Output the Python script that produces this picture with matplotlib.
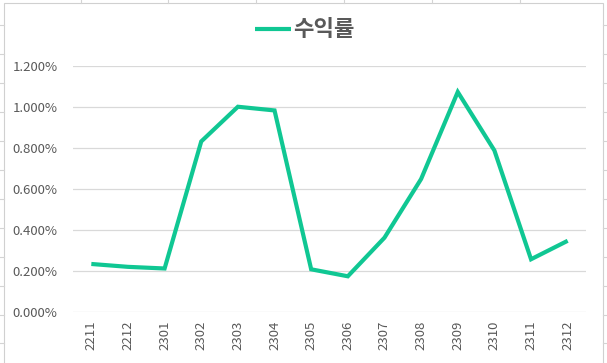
import matplotlib
matplotlib.use("Agg")
import matplotlib.pyplot as plt
from matplotlib.lines import Line2D
from matplotlib.patches import Rectangle
from matplotlib.ticker import FuncFormatter

plt.rcParams['font.family'] = ['Noto Sans CJK KR', 'DejaVu Sans']

# data
months = ['2211', '2212', '2301', '2302', '2303', '2304', '2305',
          '2306', '2307', '2308', '2309', '2310', '2311', '2312']
returns = [0.234, 0.220, 0.212, 0.831, 1.000, 0.982, 0.208,
           0.174, 0.362, 0.648, 1.072, 0.787, 0.257, 0.347]
yticks = [0.0, 0.2, 0.4, 0.6, 0.8, 1.0, 1.2]
series_name = '수익률'

W, H, DPI = 607, 363, 100
fig = plt.figure(figsize=(W/DPI, H/DPI), dpi=DPI)
fig.patch.set_facecolor('white')

# spreadsheet cells peeking around the chart
grid_c = '#D4D4D4'
for y in [25, 54, 83, 112, 141, 170, 199, 228, 257, 286, 315, 343]:
    fig.add_artist(Line2D([0, 4/W], [1-y/H, 1-y/H], color=grid_c, lw=0.8))
    fig.add_artist(Line2D([603/W, 1], [1-y/H, 1-y/H], color=grid_c, lw=0.8))
for x in [80.5, 168.5, 256, 344, 432, 520]:
    fig.add_artist(Line2D([x/W, x/W], [1-3/H, 1], color=grid_c, lw=0.8))
fig.add_artist(Rectangle((4/W, -0.05), 599/W, 1.05-3/H, fill=False,
                         edgecolor='#D0D0D0', lw=0.8))

ax = fig.add_axes([73/W, 1-312/H, (586-73)/W, (312-65.7)/H])
x = range(len(months))
color = '#10C793'
ax.plot(x, returns, color=color, lw=3, solid_joinstyle='miter',
        solid_capstyle='butt', label=series_name)

ax.set_xlim(-0.5, len(months)-0.5)
ax.set_ylim(0, 1.2)
ax.set_yticks(yticks)
ax.yaxis.set_major_formatter(FuncFormatter(lambda v, p: f'{v:.3f}%'))
ax.set_xticks(list(x))
ax.set_xticklabels(months, rotation=90)
ax.tick_params(axis='both', length=0, labelsize=9.5, labelcolor='#595959')
ax.tick_params(axis='y', pad=11)
ax.tick_params(axis='x', pad=6)
ax.grid(axis='y', color='#D9D9D9', lw=0.9)
ax.set_axisbelow(True)
for s in ax.spines.values():
    s.set_visible(False)

leg = fig.legend(loc='center', bbox_to_anchor=(305/W, 1-30/H), frameon=False,
                 handlelength=1.6, handletextpad=0.1,
                 prop={'size': 16, 'weight': 'bold'})
for t in leg.get_texts():
    t.set_color('#595959')

plt.savefig('out.png', dpi=DPI)
